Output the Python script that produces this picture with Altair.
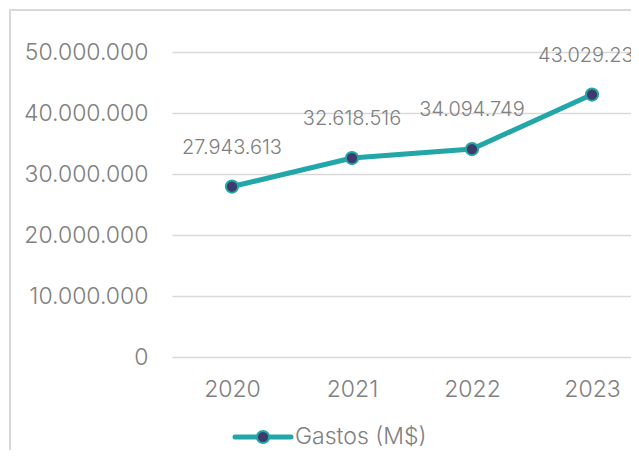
import altair as alt
import pandas as pd

years = [2020, 2021, 2022, 2023]
gastos = [27943613, 32618516, 34094749, 43029238]
series_name = ["Gastos (M$)"]
y_ticks = [0, 10000000, 20000000, 30000000, 40000000, 50000000]

FONT = "Inter"
GRAY = "#808080"
GRID = "#d9d9d9"
TEAL = "#22a6a8"
DARK = "#3e3a6a"

df = pd.DataFrame({"year": years, "gastos": gastos})
leg = pd.DataFrame({"name": series_name})

fmt_expr = "replace(format(datum.gastos, ',d'), regexp(',', 'g'), '.')"

x = alt.X("year:Q",
          scale=alt.Scale(domain=[2019.5, 2023.325], nice=False, zero=False),
          axis=alt.Axis(values=years, format="d", grid=False, domain=False, ticks=False,
                        labelPadding=21, labelFontSize=23, labelColor=GRAY, labelFont=FONT,
                        labelFontWeight=300, title=None, labelFlush=False))
y = alt.Y("gastos:Q",
          scale=alt.Scale(domain=[0, 50000000], nice=False),
          axis=alt.Axis(values=y_ticks, grid=True, gridColor=GRID, gridWidth=1.5,
                        domain=False, ticks=False, labelPadding=24, labelFontSize=23,
                        labelColor=GRAY, labelFont=FONT, labelFontWeight=300, title=None,
                        labelExpr="replace(format(datum.value, ',d'), regexp(',', 'g'), '.')"))

base = alt.Chart(df)

frame = alt.Chart(leg).mark_rect(fill=None, stroke=GRID, strokeWidth=2).encode(
    x=alt.value(-162), x2=alt.value(480), y=alt.value(-42), y2=alt.value(420))

line = base.mark_line(color=TEAL, strokeWidth=5).encode(x=x, y=y)
pts = base.mark_point(filled=True, fill=DARK, stroke=TEAL, strokeWidth=2, size=150,
                      opacity=1, shape="circle").encode(x=x, y=y)
labels = base.transform_calculate(lbl=fmt_expr).mark_text(
    dy=-39, fontSize=20, font=FONT, fontWeight=300, color=GRAY, baseline="middle"
).encode(x=x, y=y, text="lbl:N")

LY = 385
leg_line = alt.Chart(leg).mark_rule(color=TEAL, strokeWidth=5, strokeCap="round").encode(
    x=alt.value(63), x2=alt.value(119), y=alt.value(LY))
leg_pt = alt.Chart(leg).mark_point(filled=True, fill=DARK, stroke=TEAL, strokeWidth=2,
                                   size=150, opacity=1, shape="circle").encode(
    x=alt.value(91), y=alt.value(LY))
leg_txt = alt.Chart(leg).mark_text(align="left", baseline="middle", fontSize=23, font=FONT,
                                   fontWeight=300, color=GRAY).encode(
    x=alt.value(123), y=alt.value(LY), text="name:N")

chart = alt.layer(frame, line, pts, labels, leg_line, leg_pt, leg_txt).properties(
    width=459, height=305,
    autosize=alt.AutoSizeParams(type="none"),
    padding={"left": 164, "top": 44, "right": 0, "bottom": 93},
).configure(background="white").configure_view(strokeWidth=0, strokeOpacity=0)

chart.save("out.html", embed_options={"renderer": "svg", "actions": False})
